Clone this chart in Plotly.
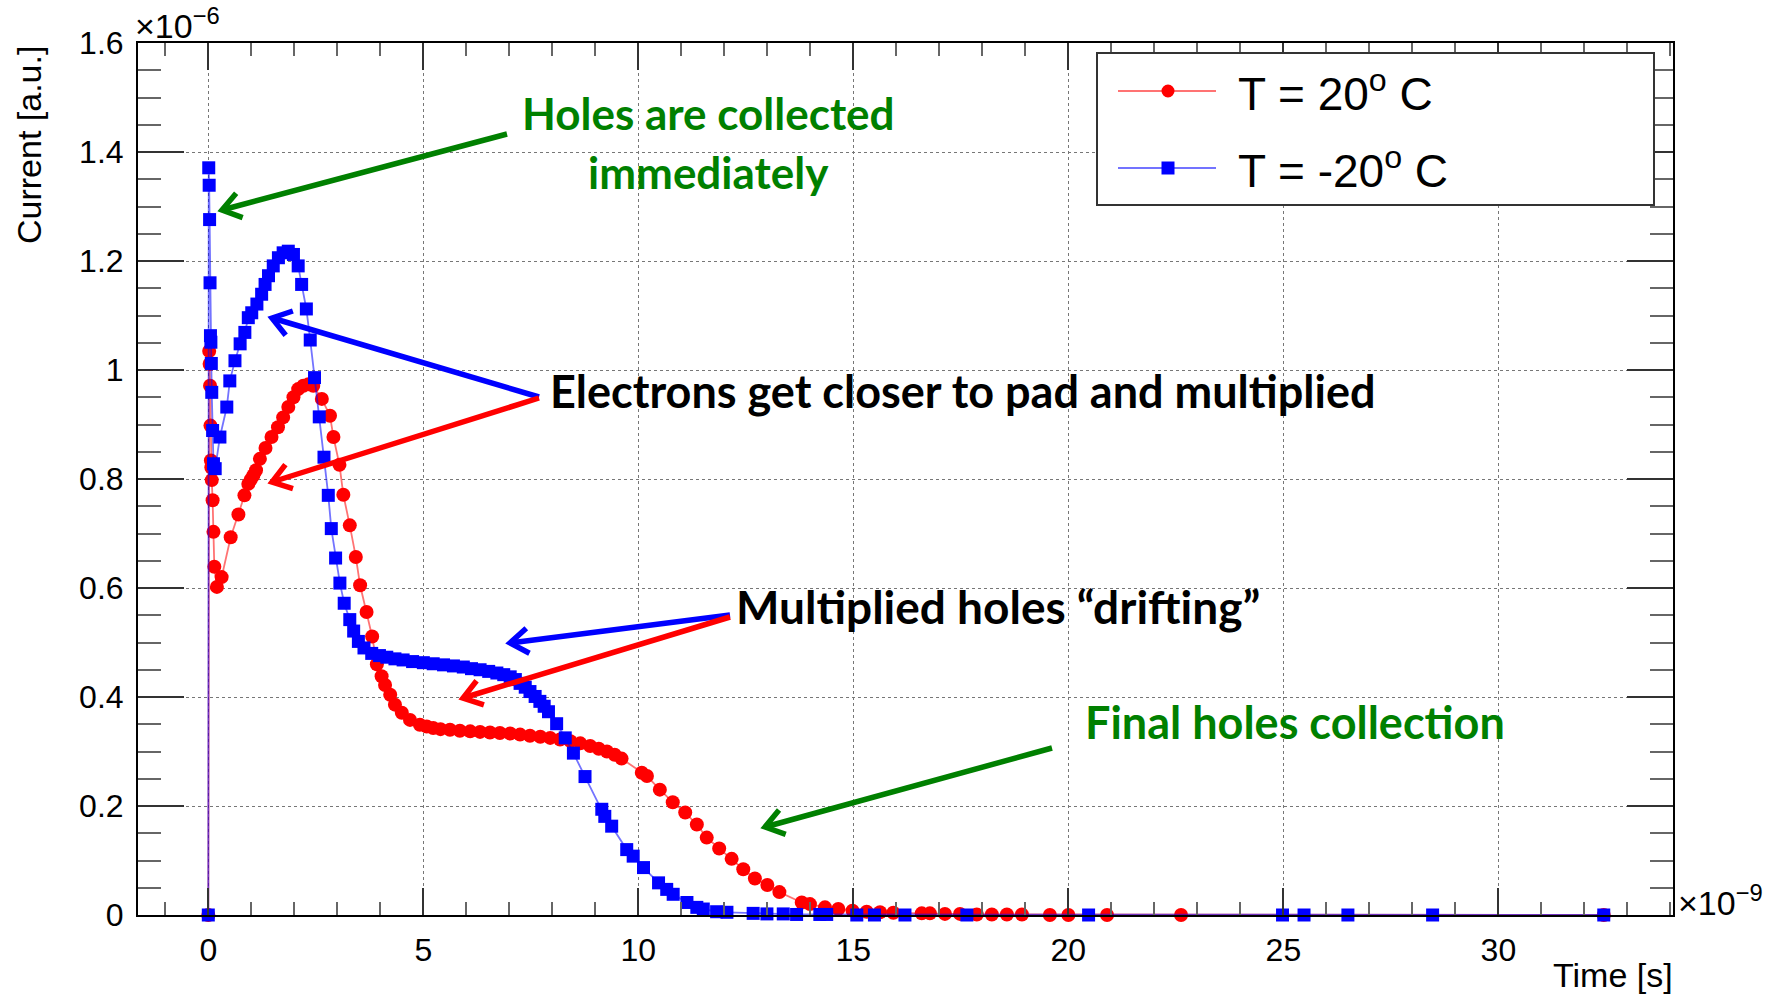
import math
import plotly.graph_objects as go

# Induced current vs time, two temperatures (time in ns, current in 1e-6 a.u.)
t_20 = [0.0, 0.02, 0.03, 0.04, 0.05, 0.06, 0.07, 0.08, 0.10, 0.12, 0.14, 0.20, 0.31, 0.52, 0.70,
        0.84, 0.93, 0.99, 1.05, 1.11, 1.20, 1.33, 1.47, 1.62, 1.74, 1.86, 1.98, 2.09, 2.21, 2.33,
        2.44, 2.64, 2.83, 2.91, 3.05, 3.14, 3.29, 3.43, 3.53, 3.68, 3.81, 3.92, 4.03, 4.11, 4.23,
        4.34, 4.50, 4.69, 4.92, 5.08, 5.23, 5.40, 5.62, 5.85, 6.09, 6.32, 6.55, 6.78, 7.02, 7.25,
        7.48, 7.72, 7.95, 8.18, 8.42, 8.65, 8.88, 9.08, 9.27, 9.45, 9.61, 10.08, 10.20, 10.50, 10.80,
        11.09, 11.36, 11.59, 11.88, 12.17, 12.44, 12.71, 13.00, 13.28, 13.80, 13.99, 14.34, 14.65, 14.98, 15.31,
        15.62, 15.93, 16.59, 16.78, 17.13, 17.48, 17.87, 18.22, 18.57, 18.92, 19.57, 20.00, 20.90, 22.62, 32.45]
i_20 = [0.0, 1.035, 1.011, 0.971, 0.898, 0.834, 0.821, 0.798, 0.761, 0.703, 0.639, 0.602, 0.620, 0.693, 0.735,
        0.770, 0.791, 0.799, 0.807, 0.816, 0.837, 0.857, 0.877, 0.895, 0.913, 0.932, 0.950, 0.965, 0.971, 0.974,
        0.971, 0.947, 0.916, 0.877, 0.826, 0.771, 0.715, 0.657, 0.605, 0.556, 0.511, 0.460, 0.438, 0.422, 0.404,
        0.386, 0.371, 0.358, 0.349, 0.346, 0.343, 0.341, 0.340, 0.338, 0.337, 0.336, 0.335, 0.334, 0.333, 0.331,
        0.329, 0.327, 0.325, 0.322, 0.319, 0.315, 0.310, 0.305, 0.300, 0.294, 0.287, 0.261, 0.255, 0.230, 0.207,
        0.188, 0.166, 0.142, 0.122, 0.103, 0.084, 0.067, 0.055, 0.042, 0.023, 0.020, 0.014, 0.011, 0.008, 0.006,
        0.005, 0.004, 0.003, 0.003, 0.002, 0.002, 0.001, 0.001, 0.001, 0.001, 0.0, 0.0, 0.0, 0.0, 0.0]

t_m20 = [0.0, 0.01, 0.02, 0.03, 0.04, 0.05, 0.06, 0.07, 0.08, 0.10, 0.12, 0.16, 0.27, 0.43, 0.50,
         0.62, 0.74, 0.85, 0.93, 1.01, 1.13, 1.24, 1.32, 1.40, 1.51, 1.63, 1.74, 1.86, 1.98, 2.09,
         2.17, 2.28, 2.37, 2.47, 2.58, 2.69, 2.79, 2.86, 2.96, 3.06, 3.16, 3.29, 3.38, 3.49, 3.62,
         3.80, 3.98, 4.15, 4.34, 4.53, 4.75, 5.00, 5.23, 5.47, 5.70, 5.93, 6.12, 6.32, 6.52, 6.71,
         6.87, 7.02, 7.14, 7.25, 7.37, 7.48, 7.60, 7.71, 7.81, 7.91, 8.10, 8.30, 8.49, 8.76, 9.15,
         9.22, 9.38, 9.73, 9.88, 10.12, 10.47, 10.66, 10.81, 11.13, 11.36, 11.51, 11.82, 12.06, 12.67, 12.99,
         13.37, 13.68, 14.22, 14.38, 15.08, 15.49, 16.20, 17.64, 20.47, 24.98, 25.48, 26.50, 28.47, 32.45]
i_m20 = [0.0, 1.371, 1.339, 1.276, 1.160, 1.063, 1.051, 1.012, 0.959, 0.889, 0.828, 0.819, 0.877, 0.932, 0.980,
         1.017, 1.048, 1.069, 1.096, 1.105, 1.121, 1.139, 1.157, 1.173, 1.191, 1.206, 1.215, 1.218, 1.212, 1.191,
         1.157, 1.112, 1.055, 0.986, 0.914, 0.840, 0.770, 0.709, 0.655, 0.609, 0.572, 0.542, 0.521, 0.502, 0.490,
         0.480, 0.476, 0.473, 0.470, 0.468, 0.465, 0.463, 0.461, 0.459, 0.457, 0.455, 0.452, 0.450, 0.447, 0.444,
         0.441, 0.437, 0.432, 0.425, 0.418, 0.410, 0.401, 0.392, 0.383, 0.373, 0.351, 0.325, 0.297, 0.254, 0.194,
         0.181, 0.163, 0.120, 0.108, 0.087, 0.059, 0.047, 0.038, 0.023, 0.014, 0.011, 0.006, 0.005, 0.003, 0.002,
         0.002, 0.001, 0.001, 0.001, 0.0, 0.0, 0.0, 0.0, 0.0, 0.0, 0.0, 0.0, 0.0, 0.0]

series_names = ["T = 20<sup>o</sup> C", "T = -20<sup>o</sup> C"]

W, H = 1775, 995
L, R, T, B = 138, 1673, 43, 915

RED = "#ff0000"
BLUE = "#0000ff"
GREEN = "#008000"
AXFONT = "Liberation Sans, Arial, Helvetica, sans-serif"
NOTEFONT = "Lato, Open Sans, sans-serif"


def fx(p):
    return (p - L) / (R - L)


def fy(p):
    return (B - p) / (B - T)


fig = go.Figure()
fig.add_trace(go.Scatter(
    x=t_20, y=i_20, mode="lines+markers", name=series_names[0], cliponaxis=False,
    line=dict(color="rgba(255,0,0,0.55)", width=1.8),
    marker=dict(symbol="circle", size=14, color=RED, line=dict(width=0)),
))
fig.add_trace(go.Scatter(
    x=t_m20, y=i_m20, mode="lines+markers", name=series_names[1], cliponaxis=False,
    line=dict(color="rgba(0,0,255,0.55)", width=1.8),
    marker=dict(symbol="square", size=13, color=BLUE, line=dict(width=0)),
))

shapes = []
annotations = []


def arrow(x0, y0, x1, y1, color, width=5.5, head=22, ang=35):
    """Straight arrow from (x0,y0) to tip (x1,y1) in page pixels, open V head."""
    shapes.append(dict(type="line", xref="paper", yref="paper",
                       x0=fx(x0), y0=fy(y0), x1=fx(x1), y1=fy(y1),
                       line=dict(color=color, width=width)))
    a = math.atan2(y0 - y1, x0 - x1)
    pts = []
    for s in (1, -1):
        aa = a + s * math.radians(ang)
        pts.append((x1 + head * math.cos(aa), y1 + head * math.sin(aa)))
    path = "M {:.5f},{:.5f} L {:.5f},{:.5f} L {:.5f},{:.5f}".format(
        fx(pts[0][0]), fy(pts[0][1]), fx(x1), fy(y1), fx(pts[1][0]), fy(pts[1][1]))
    shapes.append(dict(type="path", xref="paper", yref="paper", path=path,
                       line=dict(color=color, width=width)))


def note(text, x, y, color, size=45, xanchor="center"):
    annotations.append(dict(text=text, xref="paper", yref="paper", x=fx(x), y=fy(y),
                            xanchor=xanchor, yanchor="middle", showarrow=False,
                            font=dict(family=NOTEFONT, size=size, color=color, weight="bold")))


# callouts
note("Holes are collected", 708, 113, GREEN, size=44)
note("immediately", 708, 172, GREEN, size=44)
arrow(507, 134, 222, 210, GREEN)

note("Electrons get closer to pad and multiplied", 548, 391, "black", xanchor="left")
arrow(539, 397, 272, 318, BLUE)
arrow(539, 398, 272, 482, RED)

note("Multiplied holes \u201cdrifting\u201d", 734, 606, "black", size=46, xanchor="left")
arrow(730, 615, 510, 643, BLUE)
arrow(730, 617, 463, 698, RED)

note("Final holes collection", 1083, 722, GREEN, xanchor="left")
arrow(1052, 748, 765, 827, GREEN)

# legend box
shapes.append(dict(type="rect", xref="paper", yref="paper",
                   x0=fx(1097), x1=fx(1654), y0=fy(53), y1=fy(205),
                   line=dict(color="#333333", width=2), fillcolor="white"))
for yy, col, sym, name in ((91, "rgba(255,0,0,0.55)", "circle", series_names[0]),
                           (168, "rgba(0,0,255,0.55)", "square", series_names[1])):
    shapes.append(dict(type="line", xref="paper", yref="paper",
                       x0=fx(1118), x1=fx(1216), y0=fy(yy), y1=fy(yy),
                       line=dict(color=col, width=2)))
    r = 6.5
    shapes.append(dict(type="circle" if sym == "circle" else "rect", xref="paper", yref="paper",
                       x0=fx(1168 - r), x1=fx(1168 + r), y0=fy(yy - r), y1=fy(yy + r),
                       line=dict(width=0), fillcolor=RED if sym == "circle" else BLUE))
    annotations.append(dict(text=name, xref="paper", yref="paper", x=fx(1236), y=fy(yy),
                            xanchor="left", yanchor="middle", showarrow=False,
                            font=dict(family=AXFONT, size=46, color="black")))

# axis titles and exponent labels
annotations.append(dict(text="Current [a.u.]", xref="paper", yref="paper", x=fx(29), y=fy(44),
                        xanchor="center", yanchor="top", textangle=-90, showarrow=False,
                        font=dict(family=AXFONT, size=34, color="black")))
annotations.append(dict(text="Time [s]", xref="paper", yref="paper", x=fx(1675), y=fy(975),
                        xanchor="right", yanchor="middle", showarrow=False,
                        font=dict(family=AXFONT, size=34, color="black")))
annotations.append(dict(text="\u00d710<sup>\u22126</sup>", xref="paper", yref="paper", x=fx(133), y=fy(24),
                        xanchor="left", yanchor="middle", showarrow=False,
                        font=dict(family=AXFONT, size=34, color="black")))
annotations.append(dict(text="\u00d710<sup>\u22129</sup>", xref="paper", yref="paper", x=fx(1676), y=fy(900),
                        xanchor="left", yanchor="middle", showarrow=False,
                        font=dict(family=AXFONT, size=34, color="black")))

fig.update_layout(
    width=W, height=H,
    margin=dict(l=L, r=W - R, t=T, b=H - B, pad=0),
    paper_bgcolor="white", plot_bgcolor="white",
    showlegend=False,
    font=dict(family=AXFONT, color="black"),
    shapes=shapes, annotations=annotations,
)

fig.update_xaxes(
    range=[-1.635, 34.06], tick0=0, dtick=5,
    ticks="inside", ticklen=27, tickwidth=1.5, tickcolor="#333333",
    minor=dict(tick0=0, dtick=1, ticks="inside", ticklen=13, tickwidth=1.5,
               tickcolor="#666666", showgrid=False),
    showgrid=True, gridcolor="#777777", gridwidth=1, griddash="dot",
    showline=True, linecolor="black", linewidth=2, mirror="allticks",
    zeroline=False, tickfont=dict(size=32), ticklabelstandoff=6,
)
fig.update_yaxes(
    range=[0, 1.6], tick0=0, dtick=0.2,
    ticks="inside", ticklen=46, tickwidth=1.5, tickcolor="#333333",
    minor=dict(tick0=0, dtick=0.05, ticks="inside", ticklen=23, tickwidth=1.5,
               tickcolor="#666666", showgrid=False),
    showgrid=True, gridcolor="#777777", gridwidth=1, griddash="dot",
    showline=True, linecolor="black", linewidth=2, mirror="allticks",
    zeroline=False, tickfont=dict(size=32), ticklabelstandoff=6,
)

fig.write_html("out.html")
